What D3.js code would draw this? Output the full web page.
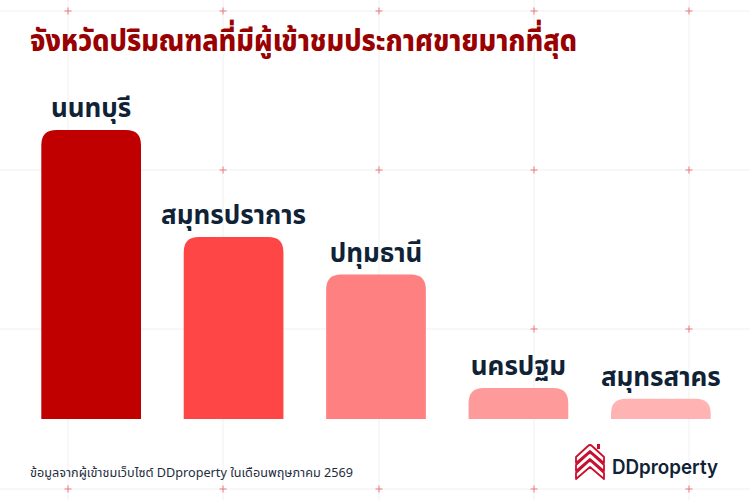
<!DOCTYPE html>
<html>
<head>
<meta charset="utf-8">
<script src="https://cdn.jsdelivr.net/npm/d3@7"></script>
<style>
  body { margin: 0; background: #fff; }
  svg { display: block; font-family: "Noto Sans Thai", "Noto Sans", sans-serif; }
</style>
</head>
<body>
<svg id="chart" width="750" height="500"></svg>
<script>
// data (relative visitor share, no axis shown)
const provinces = ["นนทบุรี", "สมุทรปราการ", "ปทุมธานี", "นครปฐม", "สมุทรสาคร"]
const values = [100, 63, 50, 10.7, 7]
const barColors = ["#c00000", "#ff4646", "#ff8080", "#ff9a9a", "#ffb3b3"]

const title = "จังหวัดปริมณฑลที่มีผู้เข้าชมประกาศขายมากที่สุด"
const note = "ข้อมูลจากผู้เข้าชมเว็บไซต์ DDproperty ในเดือนพฤษภาคม 2569"

const width = 750, height = 500
const svg = d3.select("#chart")

// background grid with little red crosses
const gridX = [68, 223, 379, 534, 689]
const gridY = [11, 170, 329, 489]
const grid = svg.append("g")
grid.selectAll("line.v").data(gridX).enter().append("line")
    .attr("x1", d => d).attr("x2", d => d)
    .attr("y1", 0).attr("y2", height)
    .attr("stroke", "#f0f0f0").attr("stroke-width", 1)
grid.selectAll("line.h").data(gridY).enter().append("line")
    .attr("y1", d => d).attr("y2", d => d)
    .attr("x1", 0).attr("x2", width)
    .attr("stroke", "#f0f0f0").attr("stroke-width", 1)

const crosses = []
gridX.forEach(x => gridY.forEach(y => crosses.push([x, y])))
grid.selectAll("path.cross").data(crosses).enter().append("path")
    .attr("d", d => `M${d[0]-3.5},${d[1]}H${d[0]+3.5}M${d[0]},${d[1]-3.5}V${d[1]+3.5}`)
    .attr("stroke", "#f07878").attr("stroke-width", 1)

// bars
const x = d3.scaleBand().domain(provinces).range([0, 752]).paddingInner(0.3).paddingOuter(0.29)
const y = d3.scaleLinear().domain([0, 100]).range([419, 130])

function topRounded(x0, y0, w, h, r) {
    r = Math.min(r, h, w / 2)
    return `M${x0},${y0+h}V${y0+r}Q${x0},${y0} ${x0+r},${y0}H${x0+w-r}Q${x0+w},${y0} ${x0+w},${y0+r}V${y0+h}Z`
}

svg.append("g").selectAll("path").data(provinces).enter().append("path")
    .attr("d", (d, i) => topRounded(x(d), y(values[i]), x.bandwidth(), y(0) - y(values[i]), 15))
    .attr("fill", (d, i) => barColors[i])

svg.append("g").selectAll("text").data(provinces).enter().append("text")
    .attr("x", d => x(d) + x.bandwidth() / 2)
    .attr("y", (d, i) => y(values[i]) - 13)
    .attr("text-anchor", "middle")
    .attr("font-size", 26)
    .attr("font-weight", 700)
    .attr("fill", "#0f2236")
    .text(d => d)

// title
svg.append("text")
    .attr("x", 30).attr("y", 51)
    .attr("font-size", 30)
    .attr("font-weight", 800)
    .attr("fill", "#990000")
    .attr("textLength", 547)
    .attr("lengthAdjust", "spacingAndGlyphs")
    .text(title)

// source note
svg.append("text")
    .attr("x", 30).attr("y", 477)
    .attr("font-size", 13)
    .attr("fill", "#1e2d3d")
    .attr("textLength", 323)
    .attr("lengthAdjust", "spacingAndGlyphs")
    .text(note)

// logo
const logo = svg.append("g").attr("transform", "translate(590,468)")
const band = "M-14,-3L-2,-14Q0,-16 2,-14L14,-3L14,3L0,-9L-14,3Z"
;[-8, 0, 8].forEach(dy => {
    logo.append("path").attr("d", band).attr("transform", `translate(0,${dy})`)
        .attr("fill", "#fff").attr("stroke", "#c8102e").attr("stroke-width", 1.8)
        .attr("stroke-linejoin", "round")
})
logo.append("rect").attr("x", 7).attr("y", -24).attr("width", 3).attr("height", 5).attr("fill", "#c8102e")

svg.append("text")
    .attr("x", 612).attr("y", 474)
    .attr("font-size", 20)
    .attr("font-weight", 600)
    .attr("fill", "#0f2236")
    .attr("font-family", "Inter, 'Noto Sans', sans-serif")
    .attr("textLength", 106)
    .attr("lengthAdjust", "spacingAndGlyphs")
    .text("DDproperty")
</script>
</body>
</html>
